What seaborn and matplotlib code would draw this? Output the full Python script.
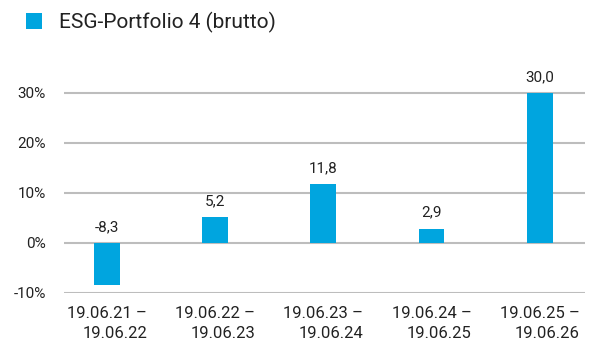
import matplotlib
matplotlib.use("Agg")
import matplotlib.pyplot as plt
import seaborn as sns
import pandas as pd
from matplotlib.patches import Patch

periods = ["19.06.21 –\n19.06.22", "19.06.22 –\n19.06.23", "19.06.23 –\n19.06.24",
           "19.06.24 –\n19.06.25", "19.06.25 –\n19.06.26"]
returns = [-8.3, 5.2, 11.8, 2.9, 30.0]
series_name = "ESG-Portfolio 4 (brutto)"
y_ticks = [-10, 0, 10, 20, 30]

bar_color = "#00A5DF"
text_color = "#222222"
grid_color = "#BDBDBD"

sns.set_theme(style="white")
plt.rcParams["font.family"] = ["Roboto", "DejaVu Sans"]

df = pd.DataFrame({"period": periods, "return": returns})

fig = plt.figure(figsize=(5.99, 3.47), dpi=100)
ax = fig.add_axes([64 / 599, (347 - 293) / 347, (585 - 64) / 599, (293 - 60) / 347])

sns.barplot(data=df, x="period", y="return", color=bar_color, width=0.24,
            saturation=1, linewidth=0, ax=ax, zorder=3)

ax.set_xlim(-0.4, 4.42)
ax.set_ylim(-10, 36.6)
ax.set_yticks(y_ticks)
ax.set_yticklabels([f"{t}%" for t in y_ticks], fontsize=11, color=text_color)
ax.set_xticklabels(periods, fontsize=12, color=text_color, linespacing=1.45,
                   multialignment="right")
ax.tick_params(axis="y", length=0, pad=13)
ax.tick_params(axis="x", length=0, pad=9)
ax.set_xlabel("")
ax.set_ylabel("")
for s in ax.spines.values():
    s.set_visible(False)
for t in y_ticks:
    ax.axhline(t, color=grid_color, lw=1.5, zorder=1)

for i, v in enumerate(returns):
    base = max(v, 0)
    ax.annotate(f"{v:.1f}".replace(".", ","), xy=(i, base), xytext=(0, 6.5),
                textcoords="offset points", ha="center", va="bottom",
                fontsize=11, color=text_color)

fig.legend(handles=[Patch(facecolor=bar_color, edgecolor="none")],
           labels=[series_name], loc="upper left", bbox_to_anchor=(0.012, 1.02),
           frameon=False, fontsize=15, handlelength=0.75, handleheight=0.75,
           handletextpad=0.85, labelcolor=text_color)

fig.savefig("out.png", dpi=100)
